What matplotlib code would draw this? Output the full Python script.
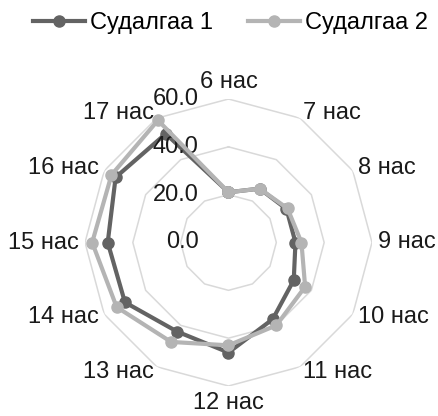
import numpy as np
import matplotlib
matplotlib.use("Agg")
import matplotlib.pyplot as plt
from matplotlib.transforms import offset_copy

plt.rcParams['font.family'] = ['Liberation Sans', 'DejaVu Sans']

# data
hours = ["6 нас", "7 нас", "8 нас", "9 нас", "10 нас", "11 нас",
         "12 нас", "13 нас", "14 нас", "15 нас", "16 нас", "17 нас"]
survey1 = [21, 26, 28, 28, 31.5, 37, 46, 43, 50, 50.5, 54.5, 52.5]
survey2 = [21, 26, 28.5, 30.5, 37, 40, 43, 48, 54, 57, 56.5, 59]
series_names = ["Судалгаа 1", "Судалгаа 2"]
rticks = [0, 20, 40, 60]

dark = "#636363"
light = "#b4b4b4"
grid_col = "#d9d9d9"
fs = 17

fig = plt.figure(figsize=(4.39, 4.16), dpi=100)
ax = fig.add_axes([85 / 439, 30 / 416, 287 / 439, 287 / 416], projection='polar')
ax.set_theta_zero_location('N')
ax.set_theta_direction(-1)
ax.set_ylim(0, 60)
ax.grid(False)
ax.set_xticks([])
ax.set_yticks([])
ax.spines['polar'].set_visible(False)
ax.patch.set_alpha(0)

n = len(hours)
theta = np.arange(n) * 2 * np.pi / n
theta_c = np.append(theta, theta[0])

# polygon grid lines
for r in rticks[1:]:
    ax.plot(theta_c, [r] * (n + 1), color=grid_col, lw=1.1, zorder=1)

def closed(vals):
    return list(vals) + [vals[0]]

ax.plot(theta_c, closed(survey1), color=dark, lw=3, marker='o', ms=8,
        label=series_names[0], clip_on=False, zorder=3)
ax.plot(theta_c, closed(survey2), color=light, lw=3, marker='o', ms=8,
        label=series_names[1], clip_on=False, zorder=4)

# category labels
lab_r = 62.5
for t, s in zip(theta, hours):
    sx, cy = np.sin(t), np.cos(t)
    ha = 'center' if abs(sx) < 0.01 else ('left' if sx > 0 else 'right')
    if cy > 0.99:
        va = 'bottom'
    elif cy < -0.99:
        va = 'top'
    else:
        va = 'center'
    ax.text(t, lab_r, s, ha=ha, va=va, fontsize=fs, color='#1a1a1a')

# radial value labels
tr = offset_copy(ax.transData, fig=fig, x=-30, y=0, units='dots')
for r in rticks:
    ax.text(0, r, "%.1f" % r, transform=tr, ha='right', va='center',
            fontsize=fs, color='#1a1a1a')

fig.legend(loc='upper center', bbox_to_anchor=(0.525, 1.01), ncol=2,
           frameon=False, fontsize=fs, handlelength=2.2, handletextpad=0.2,
           columnspacing=1.5, borderaxespad=0.3)

fig.savefig("out.png", dpi=100)
